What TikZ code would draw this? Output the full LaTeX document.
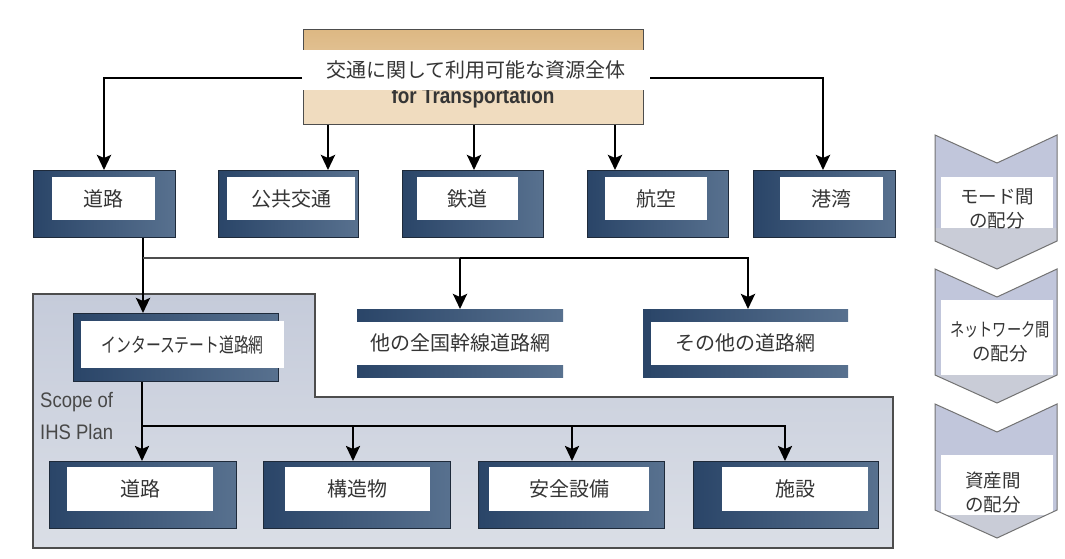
\documentclass[tikz,border=0pt]{standalone}
\usepackage{fontspec}
\setmainfont{Liberation Sans}
\newfontfamily\jp{Noto Sans CJK JP}
\usetikzlibrary{arrows.meta}
\definecolor{navyD}{HTML}{2A4568}
\definecolor{navyL}{HTML}{58718F}
\definecolor{edge}{HTML}{1E2A3A}
\definecolor{scopeT}{HTML}{C5CBDA}
\definecolor{scopeB}{HTML}{DADEE6}
\definecolor{chevT}{HTML}{C1C6DB}
\definecolor{chevB}{HTML}{C9CCD7}
\definecolor{tanD}{HTML}{DDB883}
\definecolor{tanL}{HTML}{F0DCBF}
\definecolor{txt}{HTML}{353535}
\definecolor{lbl}{HTML}{484848}
\definecolor{frame}{HTML}{4D4D4D}
\tikzset{
  x=1pt, y=-1pt,
  darkbox/.style={draw=edge, line width=0.8pt, left color=navyD, right color=navyL, inner sep=0pt, anchor=north west},
  label/.style={fill=white, inner sep=0pt, anchor=north west, text=txt, font=\jp\fontsize{20}{20}\selectfont},
  barbox/.style={fill=white, inner sep=0pt, anchor=north west, text=txt, font=\jp\fontsize{20}{20}\selectfont,
    path picture={
      \shade[left color=navyD, right color=navyL] (path picture bounding box.north west) rectangle ([yshift=-12pt]path picture bounding box.north east);
      \shade[left color=navyD, right color=navyL] ([yshift=12pt]path picture bounding box.south west) rectangle (path picture bounding box.south east);
    }},
  barboxL/.style={fill=white, inner sep=0pt, anchor=north west, text=txt, font=\jp\fontsize{20}{20}\selectfont,
    path picture={
      \shade[left color=navyD, right color=navyL] (path picture bounding box.north west) rectangle ([yshift=-12pt]path picture bounding box.north east);
      \shade[left color=navyD, right color=navyL] ([yshift=12pt]path picture bounding box.south west) rectangle (path picture bounding box.south east);
      \fill[navyD] (path picture bounding box.north west) rectangle ([xshift=8pt]path picture bounding box.south west);
    }},
  arr/.style={line width=2.8pt, -{Stealth[width=14pt,length=15pt,inset=3pt]}},
  arrB/.style={line width=2.4pt, -{Stealth[width=14pt,length=15pt,inset=3pt]}},
  thinline/.style={line width=1.3pt, draw=frame},
  chevtext/.style={align=center, text=txt, font=\jp\fontsize{18.5}{24}\selectfont, inner sep=0pt},
  chevedge/.style={draw=black!55, line width=1pt},
  scopetext/.style={anchor=west, text=lbl, font=\fontsize{21}{21}\selectfont, inner sep=0pt},
}
\newcommand\mychevpath[1]{(935,#1) -- (997,{#1+28}) -- (1057,#1) -- (1057,{#1+106}) -- (997,{#1+134}) -- (935,{#1+106}) -- cycle}
\newcommand\mychev[3]{%
  \fill[chevT] \mychevpath{#1};
  \begin{scope}
    \clip \mychevpath{#1};
    \fill[chevB] (930,{#3}) rectangle (1062,{#1+140});
    \fill[white] (941,{#2}) rectangle (1053,{#3});
  \end{scope}
  \draw[chevedge] \mychevpath{#1};
}
\begin{document}
\begin{tikzpicture}
\useasboundingbox[fill=white] (0,0) rectangle (1065,558);

% scope of IHS plan
\draw[draw=frame, line width=1.2pt, top color=scopeT, bottom color=scopeB]
  (33,294) -- (315,294) -- (315,397) -- (893,397) -- (893,548) -- (33,548) -- cycle;
\node[scopetext] (sc1) at (40,402) {\scalebox{0.88}[1]{Scope of}};
\node[scopetext] (sc2) at (40,432) {\scalebox{0.88}[1]{IHS Plan}};

% top box
\node[draw=frame, line width=1pt, fill=tanL, anchor=north west, minimum width=340pt, minimum height=95pt,
  path picture={\shade[top color=tanD, bottom color=tanL] (path picture bounding box.north west) rectangle ([yshift=-20pt]path picture bounding box.north east);}]
  (top) at (303,29) {};
\node[font=\bfseries\fontsize{22}{22}\selectfont, text=txt, anchor=base, inner sep=0pt] (ft) at (473,103) {\scalebox{0.86}[1]{for Transportation}};
\node[label, minimum width=348pt, minimum height=40pt] (lab) at (302,50) {交通に関して利用可能な資源全体};

% modes
\node[darkbox, minimum width=142pt, minimum height=67pt] (m1) at (33,170) {};
\node[label, minimum width=103pt, minimum height=43pt] (m1t) at (52,177) {道路};
\node[darkbox, minimum width=140pt, minimum height=67pt] (m2) at (218,170) {};
\node[label, minimum width=128pt, minimum height=43pt] (m2t) at (227,177) {公共交通};
\node[darkbox, minimum width=141pt, minimum height=67pt] (m3) at (402,170) {};
\node[label, minimum width=101pt, minimum height=43pt] (m3t) at (417,177) {鉄道};
\node[darkbox, minimum width=141pt, minimum height=67pt] (m4) at (587,170) {};
\node[label, minimum width=102pt, minimum height=43pt] (m4t) at (605,177) {航空};
\node[darkbox, minimum width=142pt, minimum height=67pt] (m5) at (753,170) {};
\node[label, minimum width=103pt, minimum height=43pt] (m5t) at (780,177) {港湾};

% networks
\node[darkbox, minimum width=205pt, minimum height=68pt] (inter) at (73,313) {};
\node[label, minimum width=203pt, minimum height=47pt] (intert) at (81,321) {\scalebox{0.74}[1]{インターステート道路網}};
\node[barbox, minimum width=206pt, minimum height=68pt] (nat) at (357,309) {他の全国幹線道路網};
\node[barboxL, minimum width=205pt, minimum height=68pt] (oth) at (643,309) {その他の道路網};

% assets
\node[darkbox, minimum width=187pt, minimum height=67pt] (b1) at (49,461) {};
\node[label, minimum width=146pt, minimum height=44pt] (b1t) at (67,467) {道路};
\node[darkbox, minimum width=187pt, minimum height=67pt] (b2) at (263,461) {};
\node[label, minimum width=145pt, minimum height=44pt] (b2t) at (285,467) {構造物};
\node[darkbox, minimum width=186pt, minimum height=67pt] (b3) at (478,461) {};
\node[label, minimum width=160pt, minimum height=44pt] (b3t) at (489,467) {安全設備};
\node[darkbox, minimum width=185pt, minimum height=67pt] (b4) at (693,461) {};
\node[label, minimum width=146pt, minimum height=44pt] (b4t) at (722,467) {施設};

% connector coordinates
\coordinate (la) at (302,78);
\coordinate (ra) at (650,78);
\coordinate (xa) at (104,0);
\coordinate (xb) at (328,0);
\coordinate (xc) at (474,0);
\coordinate (xd) at (615,0);
\coordinate (xe) at (823,0);
\coordinate (xf) at (143,0);
\coordinate (ja) at (143,258);
\coordinate (jb) at (460,258);
\coordinate (xg) at (748,0);
\coordinate (jc) at (142,426);
\coordinate (xh) at (353,0);
\coordinate (xi) at (572,0);
\coordinate (xj) at (785,0);

% top connectors
\draw[arr] (la) -| (xa |- m1.north);
\draw[arr] (ra) -| (xe |- m5.north);
\draw[arr] (xb |- top.south) -- (xb |- m2.north);
\draw[arr] (xc |- top.south) -- (xc |- m3.north);
\draw[arr] (xd |- top.south) -- (xd |- m4.north);

% middle connectors
\draw[arr] (xf |- m1.south) -- (xf |- inter.north);
\draw[thinline] (ja) -- (jb);
\draw[arr] (jb) -- (jb |- nat.north);
\draw[arr] (jb) -| (xg |- oth.north);

% bottom connectors
\draw[arrB] (jc |- inter.south) -- (jc |- b1.north);
\draw[arrB] (jc) -| (xh |- b2.north);
\draw[arrB] (jc) -| (xi |- b3.north);
\draw[arrB] (jc) -| (xj |- b4.north);

% chevrons
\mychev{135}{177}{228}
\mychev{269}{300}{375}
\mychev{404}{455}{515}
\node[chevtext] (c1) at (997,209) {モード間\\の配分};
\node[chevtext] (c2) at (1000,342) {\scalebox{0.77}[1]{ネットワーク間}\\の配分};
\node[chevtext] (c3) at (993,493) {資産間\\の配分};
\end{tikzpicture}
\end{document}
